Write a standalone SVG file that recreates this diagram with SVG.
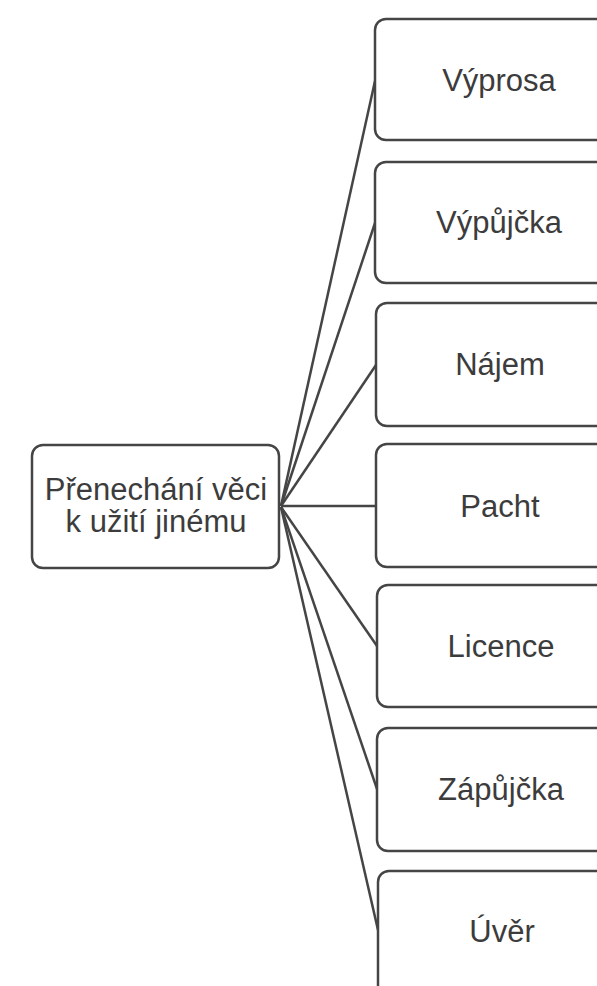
<svg xmlns="http://www.w3.org/2000/svg" width="597" height="986" viewBox="0 0 597 986">
<style>
.box{fill:#ffffff;stroke:#454545;stroke-width:2.5}
.lbl{font-family:"Liberation Sans",Arial,sans-serif;font-size:31px;fill:#3c3c3c;text-anchor:middle}
.con{stroke:#454545;stroke-width:2.5;fill:none}
</style>
<rect width="597" height="986" fill="#ffffff"/>
<g id="connectors">
<line class="con" x1="281" y1="506" x2="375" y2="81"/>
<line class="con" x1="281" y1="506" x2="375" y2="223"/>
<line class="con" x1="281" y1="506" x2="376" y2="365"/>
<line class="con" x1="281" y1="506" x2="376" y2="506"/>
<line class="con" x1="281" y1="507" x2="377" y2="646"/>
<line class="con" x1="281" y1="507" x2="377" y2="789"/>
<line class="con" x1="281" y1="507" x2="378" y2="930"/>
</g>
<g id="root">
<rect class="box" x="32" y="445" width="247" height="123" rx="11"/>
<text class="lbl" x="156" y="500">Přenechání věci</text>
<text class="lbl" x="156" y="532">k užití jinému</text>
</g>
<g id="vyprosa">
<rect class="box" x="375" y="19" width="248" height="121" rx="11"/>
<text class="lbl" x="499" y="91">Výprosa</text>
</g>
<g id="vypujcka">
<rect class="box" x="375" y="162" width="248" height="121" rx="11"/>
<text class="lbl" x="499" y="233">Výpůjčka</text>
</g>
<g id="najem">
<rect class="box" x="376" y="303" width="248" height="123" rx="11"/>
<text class="lbl" x="500" y="375">Nájem</text>
</g>
<g id="pacht">
<rect class="box" x="376" y="444" width="248" height="123" rx="11"/>
<text class="lbl" x="500" y="517">Pacht</text>
</g>
<g id="licence">
<rect class="box" x="377" y="585" width="248" height="122" rx="11"/>
<text class="lbl" x="501" y="657">Licence</text>
</g>
<g id="zapujcka">
<rect class="box" x="377" y="728" width="248" height="123" rx="11"/>
<text class="lbl" x="501" y="800">Zápůjčka</text>
</g>
<g id="uver">
<rect class="box" x="378" y="871" width="248" height="126" rx="11"/>
<text class="lbl" x="502" y="942">Úvěr</text>
</g>
</svg>
